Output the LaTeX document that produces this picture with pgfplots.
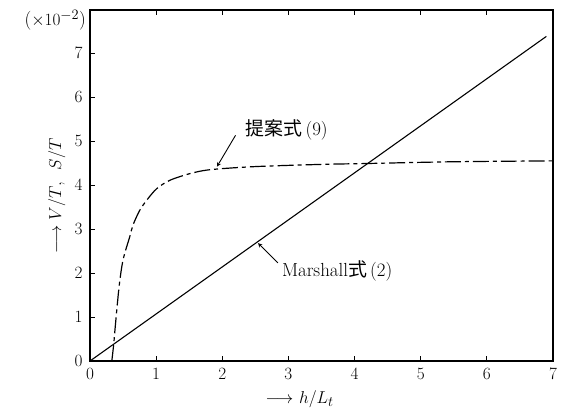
\documentclass[border=0pt]{standalone}
\usepackage{fontspec}
\usepackage{pgfplots}
\pgfplotsset{compat=1.18}
\newfontfamily\cjk{Noto Sans CJK JP}
\begin{document}
\fontsize{19}{22}\selectfont
\begin{tikzpicture}
\path[use as bounding box] (-90bp,-55bp) rectangle (471bp,361bp);
\begin{axis}[
  at={(0,0)}, anchor=south west,
  scale only axis, width=463bp, height=351bp,
  xmin=0, xmax=7, ymin=0, ymax=7.98,
  xtick={0,...,7}, ytick={0,...,7},
  xtick pos=both, ytick pos=left,
  tick align=inside, major tick length=5bp,
  axis line style={line width=1.3pt},
  tick style={line width=0.9pt, black},
  tick label style={font=\fontsize{19}{22}\selectfont},
  xticklabel style={yshift=-1bp},
  yticklabel style={xshift=-1bp},
  clip=false,
]
\addplot[black, line width=1.1pt] coordinates {(0,0) (6.9,7.38)};
\addplot[black, line width=1.2pt, smooth, tension=0.5,
  dash pattern=on 16pt off 4pt on 4pt off 4pt] coordinates {
  (0.33,0) (0.36,0.4) (0.38,0.75) (0.44,1.69) (0.50,2.3) (0.6,2.82) (0.65,3.09)
  (0.75,3.42) (0.86,3.66) (1.01,3.92) (1.21,4.11) (1.51,4.26) (1.82,4.35)
  (2.5,4.42) (3.5,4.47) (4.19,4.49) (5.5,4.53) (7,4.55)};
\draw[->, >=stealth, line width=0.9pt] (axis cs:2.2,5.13) -- (axis cs:1.92,4.42);
\node[anchor=west, inner sep=0] at (axis cs:2.35,5.25) {{\cjk 提案式}\,(9)};
\draw[->, >=stealth, line width=0.9pt] (axis cs:2.84,2.23) -- (axis cs:2.54,2.68);
\node[anchor=west, inner sep=0] at (axis cs:2.9,2.05) {Marshall{\cjk 式}\,(2)};
\node[anchor=east, inner sep=0] at (axis cs:-0.06,7.75) {(${\times}10^{-2}$)};
\node[rotate=90, inner sep=0] at (axis cs:-0.5,3.75) {$\longrightarrow$ $V/T$,\ \ $S/T$};
\node[inner sep=0] at (axis cs:3.17,-0.86) {$\longrightarrow$ $h/L_t$};
\end{axis}
\end{tikzpicture}
\end{document}
